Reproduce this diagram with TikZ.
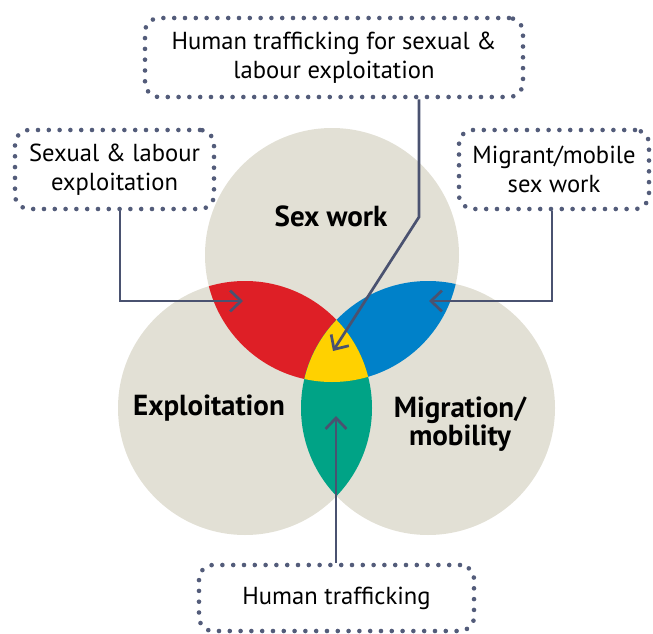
\documentclass[tikz,border=0pt]{standalone}
\usepackage{fontspec}
\setmainfont{PT Sans}
\usetikzlibrary{arrows.meta}
\definecolor{beige}{HTML}{E2E0D5}
\definecolor{vred}{HTML}{DE1F26}
\definecolor{vblue}{HTML}{0081C9}
\definecolor{vyellow}{HTML}{FFD100}
\definecolor{vgreen}{HTML}{00A386}
\definecolor{linec}{HTML}{4A5270}
\definecolor{dotc}{HTML}{535C7A}
\tikzset{
  dotbox/.style={draw=dotc, line width=4.6pt, dash pattern=on 0pt off 10.8pt,
    line cap=round, rounded corners=14pt, align=center, inner sep=0pt,
    font=\fontsize{24.6}{29.5}\selectfont},
  biglabel/.style={font=\fontsize{29}{28}\selectfont\bfseries, align=center, inner sep=0pt},
  conn/.style={draw=linec, line width=2.7pt, -{Straight Barb[length=11pt,width=21pt,line width=2.7pt]}}
}
\begin{document}
\begin{tikzpicture}[x=1pt,y=-1pt]
\useasboundingbox (0,0) rectangle (653,634);
% circles
\coordinate (ct) at (332,255);
\coordinate (cl) at (245,408);
\coordinate (cr) at (428,408);
\fill[beige] (ct) circle[radius=127pt];
\fill[beige] (cl) circle[radius=127pt];
\fill[beige] (cr) circle[radius=127pt];
\begin{scope}
  \clip (ct) circle[radius=127pt];
  \fill[vred] (cl) circle[radius=127pt];
  \fill[vblue] (cr) circle[radius=127pt];
\end{scope}
\begin{scope}
  \clip (cl) circle[radius=127pt];
  \fill[vgreen] (cr) circle[radius=127pt];
\end{scope}
\begin{scope}
  \clip (ct) circle[radius=127pt];
  \clip (cl) circle[radius=127pt];
  \fill[vyellow] (cr) circle[radius=127pt];
\end{scope}
% labels
\node[biglabel] (sw) at (331,216) {Sex work};
\node[biglabel] (ex) at (209,408) {Exploitation};
\node[biglabel] (mm) at (460,424) {Migration/\\mobility};
% boxes
\node[dotbox, minimum width=378pt, minimum height=79pt] (tbox) at (334,57.5) {Human trafficking for sexual \&\\labour exploitation};
\node[dotbox, minimum width=199pt, minimum height=79pt] (lbox) at (114.5,169.5) {Sexual \& labour\\exploitation};
\node[dotbox, minimum width=190pt, minimum height=79pt] (rbox) at (554,169.5) {Migrant/mobile\\sex work};
\node[dotbox, minimum width=275pt, minimum height=66pt] (bbox) at (336.5,598) {Human trafficking};
% connector targets
\coordinate (redpt) at (243,301);
\coordinate (bluept) at (429,301);
\coordinate (tbend) at (419,217);
\coordinate (yelpt) at (333,351);
\coordinate (grnpt) at (336,416);
\draw[conn] ([xshift=5.5pt]lbox.south) |- (redpt);
\draw[conn] ([xshift=-2pt]rbox.south) |- (bluept);
\draw[conn] (tbox.south -| tbend) -- (tbend) -- (yelpt);
\draw[conn] (bbox.north -| grnpt) -- (grnpt);
\end{tikzpicture}
\end{document}
